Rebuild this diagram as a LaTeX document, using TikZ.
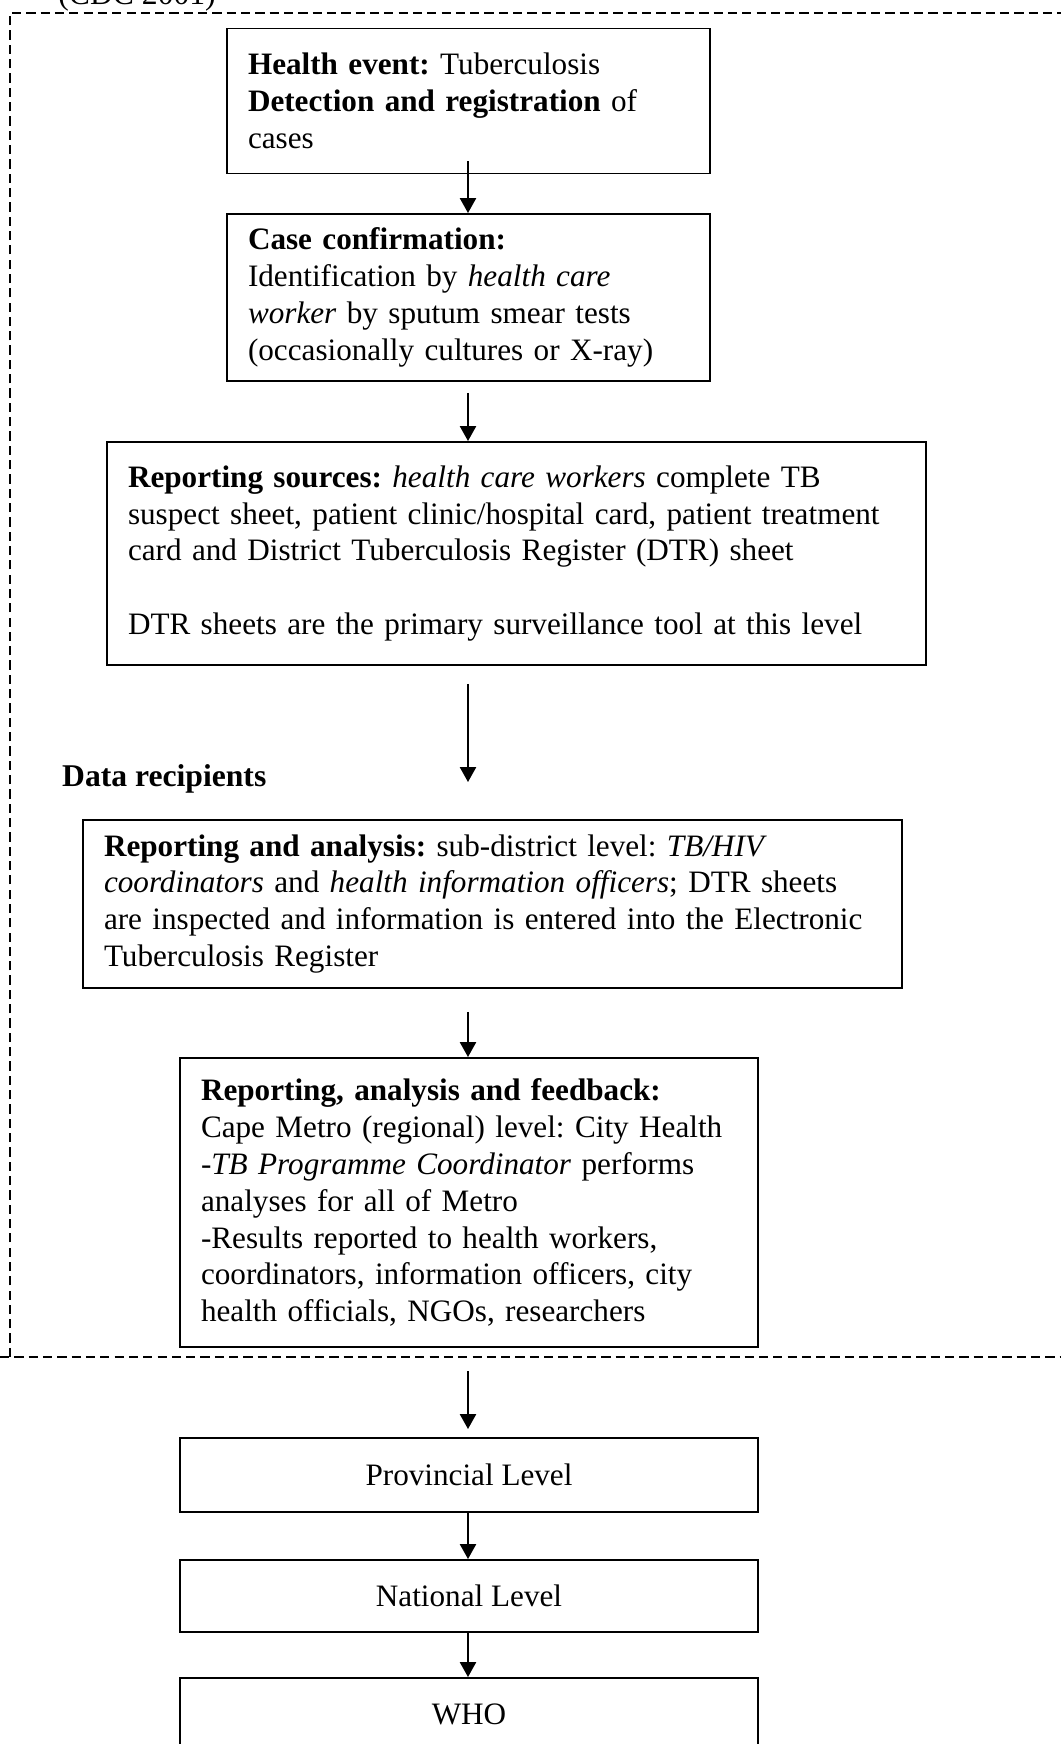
\documentclass[tikz,border=0pt]{standalone}
\usepackage{fontspec}
\setmainfont{Liberation Serif}
\usepackage{tikz}
\usetikzlibrary{arrows.meta}
\newlength\px
\setlength\px{0.433pt}
\frenchspacing

\begin{document}
\begin{tikzpicture}[
    x=0.433pt, y=-0.433pt,
    box/.style={draw, line width=0.85pt, align=left, inner xsep=21\px,
                inner ysep=0pt, font=\fontsize{13.5}{16}\selectfont},
    level/.style={draw, line width=0.85pt, align=center, minimum width=578\px,
                  minimum height=72\px, font=\fontsize{13.5}{16}\selectfont},
    arrow/.style={-{Triangle[length=6.5pt, width=7pt]}, line width=0.9pt},
    frame/.style={line width=1.1pt, dash pattern=on 4pt off 2.2pt},
    lbl/.style={font=\fontsize{13.7}{16}\selectfont\bfseries, anchor=west},
]
    \useasboundingbox (0,0) rectangle (1061,1744);

    % source line, cut by the page edge
    \node[anchor=base west, inner sep=0pt, font=\fontsize{13.7}{16}\selectfont]
        (src) at (58,4) {(CDC 2001)};

    % dashed frame round the district part
    \draw[frame] (10,1357) -- (10,13) -- (1061,13);
    \draw[frame] (0,1357) -- (1061,1357);

    \coordinate (axis) at (468,0);

    \node[box, minimum width=483\px, minimum height=145\px, text width=441\px]
        (event) at (468.5,101)
        {\textbf{Health event:} Tuberculosis\\
         \textbf{Detection and registration} of\\
         cases};
    \node[box, minimum width=483\px, minimum height=167\px, text width=441\px]
        (confirm) at (468.5,297.5)
        {\textbf{Case confirmation:}\\
         Identification by \textit{health care}\\
         \textit{worker} by sputum smear tests\\
         (occasionally cultures or X-ray)};
    \node[box, minimum width=819\px, minimum height=223\px, text width=777\px]
        (sources) at (516.5,553.5)
        {\textbf{Reporting sources:} \textit{health care workers} complete TB\\
         suspect sheet, patient clinic/hospital card, patient treatment\\
         card and District Tuberculosis Register (DTR) sheet\\[16pt]
         DTR sheets are the primary surveillance tool at this level};

    \node[lbl] (recip) at (54,779) {Data recipients};

    \node[box, minimum width=819\px, minimum height=168\px, text width=777\px]
        (subdist) at (492.5,904)
        {\textbf{Reporting and analysis:} sub-district level: \textit{TB/HIV}\\
         \textit{coordinators} and \textit{health information officers}; DTR sheets\\
         are inspected and information is entered into the Electronic\\
         Tuberculosis Register};
    \node[box, minimum width=578\px, minimum height=289\px, text width=536\px]
        (metro) at (469,1202.5)
        {\textbf{Reporting, analysis and feedback:}\\
         Cape Metro (regional) level: City Health\\
         -\textit{TB Programme Coordinator} performs\\
         analyses for all of Metro\\
         -Results reported to health workers,\\
         coordinators, information officers, city\\
         health officials, NGOs, researchers};

    \node[level, minimum height=74\px] (prov) at (469,1475) {Provincial Level};
    \node[level] (nat) at (469,1596) {National Level};
    \node[level] (who) at (469,1714) {WHO};

    \draw[arrow, shorten <=-13\px] (event.south -| axis) -- (confirm.north -| axis);
    \draw[arrow, shorten <=11\px] (confirm.south -| axis) -- (sources.north -| axis);
    \draw[arrow, shorten <=18\px, shorten >=37\px] (sources.south -| axis) -- (subdist.north -| axis);
    \draw[arrow, shorten <=23\px] (subdist.south -| axis) -- (metro.north -| axis);
    \draw[arrow, shorten <=23\px, shorten >=8\px] (metro.south -| axis) -- (prov.north -| axis);
    \draw[arrow] (prov.south -| axis) -- (nat.north -| axis);
    \draw[arrow] (nat.south -| axis) -- (who.north -| axis);
\end{tikzpicture}
\end{document}
